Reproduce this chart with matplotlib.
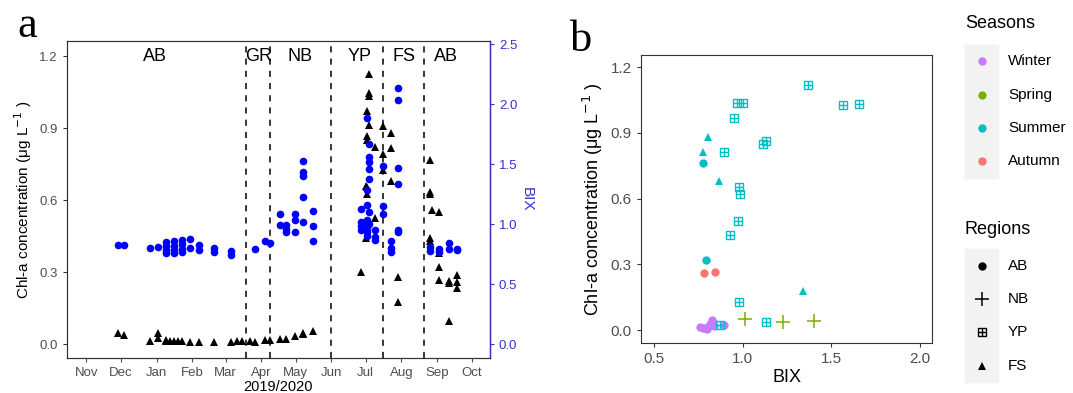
import numpy as np
import pandas as pd
import matplotlib
matplotlib.use('Agg')
import matplotlib.pyplot as plt
import matplotlib.dates as mdates
from matplotlib.patches import Rectangle

plt.rcParams['font.family'] = ['Liberation Sans', 'DejaVu Sans']

# ---- panel a data: Chl-a (triangles, left axis) ----
chl_dates = ['2019-11-28', '2019-12-04', '2019-12-26', '2020-01-02', '2020-01-02',
             '2020-01-09', '2020-01-09', '2020-01-13', '2020-01-16', '2020-01-20',
             '2020-01-23', '2020-01-30', '2020-02-07', '2020-02-20', '2020-03-06',
             '2020-03-11', '2020-03-15', '2020-03-22', '2020-03-27', '2020-04-04',
             '2020-04-09', '2020-04-17', '2020-04-23', '2020-04-30', '2020-05-07',
             '2020-05-07', '2020-05-16',
             '2020-06-27', '2020-07-01', '2020-07-01', '2020-07-02', '2020-07-02',
             '2020-07-02', '2020-07-02', '2020-07-02', '2020-07-04', '2020-07-04',
             '2020-07-04', '2020-07-04', '2020-07-09', '2020-07-09', '2020-07-16',
             '2020-07-16', '2020-07-16', '2020-07-23', '2020-07-23', '2020-07-23',
             '2020-07-29', '2020-07-29',
             '2020-08-26', '2020-08-26', '2020-08-26', '2020-08-26', '2020-08-26',
             '2020-08-28', '2020-09-03', '2020-09-03', '2020-09-03', '2020-09-03',
             '2020-09-11', '2020-09-11', '2020-09-11', '2020-09-18', '2020-09-18',
             '2020-09-18']
chl_vals = [0.046, 0.039, 0.011, 0.046, 0.025,
            0.018, 0.012, 0.014, 0.014, 0.014,
            0.014, 0.010, 0.010, 0.010, 0.010,
            0.014, 0.014, 0.012, 0.010, 0.017,
            0.017, 0.020, 0.022, 0.033, 0.040,
            0.047, 0.054,
            0.30, 0.658, 0.44, 0.867, 0.85,
            0.972, 0.625, 0.653, 1.125, 1.045,
            1.033, 0.912, 0.82, 0.524, 0.91,
            0.79, 0.725, 0.88, 0.815, 0.68,
            0.278, 0.176,
            0.767, 0.635, 0.625, 0.44, 0.43,
            0.558, 0.551, 0.38, 0.322, 0.267,
            0.264, 0.255, 0.097, 0.287, 0.26,
            0.232]

# ---- panel a data: BIX (circles, right axis) ----
bix_dates = ['2019-11-28', '2019-12-04', '2019-12-26', '2020-01-02',
             '2020-01-09', '2020-01-09', '2020-01-09', '2020-01-09',
             '2020-01-16', '2020-01-16', '2020-01-16', '2020-01-16',
             '2020-01-23', '2020-01-23', '2020-01-23', '2020-01-23',
             '2020-01-30', '2020-01-30', '2020-02-07', '2020-02-07',
             '2020-02-20', '2020-02-20', '2020-03-06', '2020-03-06',
             '2020-03-27', '2020-04-04', '2020-04-09', '2020-04-17', '2020-04-17',
             '2020-04-23', '2020-04-23', '2020-04-23', '2020-04-30', '2020-04-30',
             '2020-04-30', '2020-05-07', '2020-05-07', '2020-05-07', '2020-05-07',
             '2020-05-07', '2020-05-16', '2020-05-16', '2020-05-16',
             '2020-06-27', '2020-06-27', '2020-06-27', '2020-06-27',
             '2020-07-02', '2020-07-02', '2020-07-02', '2020-07-02', '2020-07-02',
             '2020-07-02', '2020-07-02', '2020-07-02',
             '2020-07-04', '2020-07-04', '2020-07-04', '2020-07-04', '2020-07-04',
             '2020-07-04', '2020-07-04',
             '2020-07-09', '2020-07-09', '2020-07-09',
             '2020-07-16', '2020-07-16', '2020-07-16',
             '2020-07-23', '2020-07-23', '2020-07-23',
             '2020-07-29', '2020-07-29', '2020-07-29', '2020-07-29', '2020-07-29',
             '2020-07-29',
             '2020-08-26', '2020-08-26', '2020-09-03', '2020-09-03',
             '2020-09-11', '2020-09-11', '2020-09-18', '2020-09-18']
bix_vals = [0.826, 0.826, 0.80, 0.81,
            0.854, 0.818, 0.785, 0.76,
            0.862, 0.818, 0.785, 0.758,
            0.868, 0.83, 0.79, 0.766,
            0.876, 0.804, 0.826, 0.785,
            0.80, 0.77, 0.777, 0.744,
            0.79, 0.862, 0.846, 1.083, 0.994,
            0.992, 0.96, 0.934, 1.083, 1.03,
            0.936, 1.523, 1.432, 1.397, 1.226,
            1.017, 1.107, 0.986, 0.86,
            1.124, 1.02, 0.98, 0.95,
            1.88, 1.28, 1.157, 1.03, 0.99,
            0.96, 0.93, 0.90,
            1.667, 1.556, 1.515, 1.46, 1.378,
            1.10, 1.0,
            0.95, 0.895, 0.868,
            1.48, 1.149, 1.088,
            0.862, 0.80, 0.77,
            2.13, 2.03, 1.47, 1.336, 0.95,
            0.93,
            0.81, 0.777, 0.793, 0.771,
            0.845, 0.79, 0.79, 0.78]

# period boundaries and labels
bound_dates = ['2020-03-19', '2020-04-09', '2020-06-01', '2020-07-16', '2020-08-21']
period_names = ['AB', 'GR', 'NB', 'YP', 'FS', 'AB']
period_mid = ['2019-12-31', '2020-03-30', '2020-05-05', '2020-06-26', '2020-08-03', '2020-09-09']

# ---- panel b data ----
b_bix = [0.76, 0.775, 0.79, 0.80, 0.81, 0.815, 0.825, 0.835, 0.84,
         0.897, 1.015, 1.229, 1.404,
         1.37, 1.564, 1.658, 0.966, 1.0, 0.95, 0.897, 1.117, 1.132, 0.979, 0.985,
         0.972, 0.929, 0.979, 0.872, 1.132,
         0.805, 0.778, 0.868, 1.34,
         0.775, 0.793,
         0.782, 0.844]
b_chl = [0.012, 0.010, 0.008, 0.005, 0.02, 0.03, 0.045, 0.035, 0.02,
         0.022, 0.052, 0.036, 0.043,
         1.12, 1.025, 1.032, 1.036, 1.035, 0.967, 0.813, 0.848, 0.863, 0.653, 0.62,
         0.497, 0.433, 0.128, 0.021, 0.036,
         0.879, 0.813, 0.679, 0.179,
         0.761, 0.319,
         0.26, 0.266]
b_season = ['Winter'] * 10 + ['Spring'] * 3 + ['Summer'] * 22 + ['Autumn'] * 2
b_region = (['AB'] * 10 + ['NB'] * 3 + ['YP'] * 16 + ['FS'] * 4 + ['AB'] * 2 + ['AB'] * 2)

seasons = ['Winter', 'Spring', 'Summer', 'Autumn']
season_colors = ['#C77CFF', '#7CAE00', '#00BFC4', '#F8766D']
regions = ['AB', 'NB', 'YP', 'FS']

GRID_COL = '#4D4D4D'
SPINE_COL = '#333333'


def draw_region_marker(ax, x, y, region, color, size, zorder=3):
    """Draw ggplot-like shapes: 16 circle, 3 plus, 12 boxplus, 17 triangle"""
    if region == 'AB':
        ax.plot(x, y, 'o', color=color, ms=size, mew=0, zorder=zorder, linestyle='none')
    elif region == 'NB':
        ax.plot(x, y, '+', color=color, ms=size * 1.6, mew=1.1, zorder=zorder, linestyle='none')
    elif region == 'YP':
        ax.plot(x, y, 's', mfc='none', mec=color, ms=size * 1.05, mew=1.0, zorder=zorder, linestyle='none')
        ax.plot(x, y, '+', color=color, ms=size * 1.05, mew=1.0, zorder=zorder, linestyle='none')
    elif region == 'FS':
        ax.plot(x, y, '^', color=color, ms=size * 1.05, mew=0, zorder=zorder, linestyle='none')


fig = plt.figure(figsize=(10.73, 3.93), dpi=100)

# ================= panel a =================
ax = fig.add_axes([0.0624, 0.089, 0.3942, 0.8066])
ax2 = ax.twinx()

chl_dt = pd.to_datetime(chl_dates)
bix_dt = pd.to_datetime(bix_dates)

ax.plot(chl_dt, chl_vals, '^', color='black', ms=6, mew=0, zorder=4)
ax2.plot(bix_dt, bix_vals, 'o', color='#0000FF', ms=5.5, mew=0, zorder=3)

for d in bound_dates:
    ax.axvline(pd.Timestamp(d), color='black', linestyle=(0, (4, 4)), lw=1.1, zorder=2)

for name, d in zip(period_names, period_mid):
    ax.text(pd.Timestamp(d), 1.2, name, ha='center', va='center', fontsize=13)

ax.set_xlim(pd.Timestamp('2019-10-15'), pd.Timestamp('2020-10-17'))
ax.set_ylim(-0.058, 1.2625)
ax2.set_ylim(-0.116, 2.525)
ax.set_yticks([0.0, 0.3, 0.6, 0.9, 1.2])
ax2.set_yticks([0.0, 0.5, 1.0, 1.5, 2.0, 2.5])
ax.xaxis.set_major_locator(mdates.MonthLocator())
ax.xaxis.set_major_formatter(mdates.DateFormatter('%b'))

ax.tick_params(axis='both', colors=GRID_COL, labelsize=9.5, length=3, width=0.8)
ax.tick_params(axis='y', colors=SPINE_COL, labelcolor=GRID_COL)
ax2.tick_params(axis='y', colors='#3333CC', labelsize=9.5, length=3, width=0.8)
for s in ['left', 'top', 'bottom']:
    ax.spines[s].set_color(SPINE_COL)
    ax2.spines[s].set_color(SPINE_COL)
ax2.spines['right'].set_color('#3333CC')
ax2.spines['right'].set_linewidth(1.0)

ax.set_ylabel('Chl-a concentration (μg L$^{-1}$ )', fontsize=11, labelpad=4)
ax.set_xlabel('2019/2020', fontsize=10.5, labelpad=0.5)
ax2.set_ylabel('BIX', fontsize=11, color='#3333CC', rotation=270, labelpad=12)

fig.text(0.016, 0.905, 'a', fontsize=32, family='Liberation Serif')

# ================= panel b =================
bx = fig.add_axes([0.5974, 0.1272, 0.2712, 0.7328])
for x, y, s, r in zip(b_bix, b_chl, b_season, b_region):
    draw_region_marker(bx, x, y, r, season_colors[seasons.index(s)], 6)

bx.set_xlim(0.427, 2.068)
bx.set_ylim(-0.059, 1.255)
bx.set_xticks([0.5, 1.0, 1.5, 2.0])
bx.set_yticks([0.0, 0.3, 0.6, 0.9, 1.2])
bx.xaxis.set_major_formatter(matplotlib.ticker.FormatStrFormatter('%.1f'))
bx.tick_params(axis='both', colors=SPINE_COL, labelcolor=GRID_COL, labelsize=11, length=3, width=0.8)
for s in bx.spines.values():
    s.set_color(SPINE_COL)
bx.set_xlabel('BIX', fontsize=13, labelpad=2)
bx.set_ylabel('Chl-a concentration (μg L$^{-1}$ )', fontsize=13, labelpad=4)

fig.text(0.531, 0.87, 'b', fontsize=32, family='Liberation Serif')

# ================= legend (drawn by hand, pixel coords) =================
lg = fig.add_axes([0, 0, 1, 1], facecolor='none')
lg.set_xlim(0, 1073)
lg.set_ylim(393, 0)
lg.axis('off')

lg.text(965, 24, 'Seasons', fontsize=13, va='center', ha='left')
lg.add_patch(Rectangle((965, 45), 33, 133, color='#F2F2F2', zorder=0))
season_y = [61, 95, 128, 161]
for s, c, yy in zip(seasons, season_colors, season_y):
    lg.plot(981.5, yy, 'o', color=c, ms=6, mew=0)
    lg.text(1008, yy, s, fontsize=11, va='center', ha='left')

lg.text(965, 230, 'Regions', fontsize=13, va='center', ha='left')
lg.add_patch(Rectangle((965, 249), 33, 133, color='#F2F2F2', zorder=0))
region_y = [266, 299, 332, 366]
for r, yy in zip(regions, region_y):
    draw_region_marker(lg, 981.5, yy, r, 'black', 6)
    lg.text(1008, yy, r, fontsize=11, va='center', ha='left')

fig.savefig('out.png', dpi=100)
